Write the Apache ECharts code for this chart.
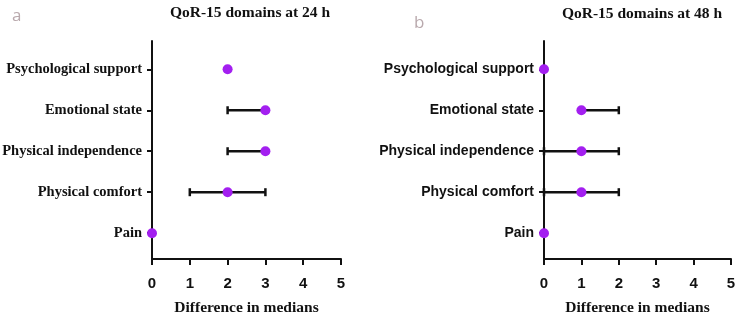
<!DOCTYPE html>
<html>
<head>
<meta charset="utf-8">
<script src="https://cdn.jsdelivr.net/npm/echarts@6/dist/echarts.min.js"></script>
<style>
  html, body { margin: 0; padding: 0; background: #fff; }
  #chart { width: 737px; height: 317px; }
</style>
</head>
<body>
<div id="chart"></div>
<script>
// domains, bottom to top (y value 0..4)
var domains = ['Pain', 'Physical comfort', 'Physical independence', 'Emotional state', 'Psychological support'];
var xTicks = [0, 1, 2, 3, 4, 5];

// 24 h
var median24 = [0, 2, 3, 3, 2];
var low24 = [0, 1, 2, 2, 2];
var high24 = [0, 3, 3, 3, 2];

// 48 h
var median48 = [0, 1, 1, 1, 0];
var low48 = [0, 0, 0, 1, 0];
var high48 = [0, 2, 2, 2, 0];

var purple = '#a31ff0';
var serif = 'Liberation Serif';
var sans = 'Liberation Sans';

function points(med) {
  return med.map(function (v, i) { return [v, i]; });
}
function bars(lo, hi) {
  return lo.map(function (v, i) { return [v, hi[i], i]; });
}

function errRender(params, api) {
  var lo = api.value(0), hi = api.value(1), y = api.value(2);
  if (lo === hi) return null;
  var a = api.coord([lo, y]);
  var b = api.coord([hi, y]);
  var h = 4;
  var st = { stroke: '#111', lineWidth: 2.5 };
  return {
    type: 'group',
    children: [
      { type: 'line', shape: { x1: a[0], y1: a[1], x2: b[0], y2: b[1] }, style: st },
      { type: 'line', shape: { x1: a[0], y1: a[1] - h, x2: a[0], y2: a[1] + h }, style: st },
      { type: 'line', shape: { x1: b[0], y1: b[1] - h, x2: b[0], y2: b[1] + h }, style: st }
    ]
  };
}

function xAxis(idx) {
  return {
    type: 'value', gridIndex: idx, min: 0, max: 5, interval: 1,
    name: 'Difference in medians', nameLocation: 'middle', nameGap: 41,
    nameTextStyle: { fontFamily: serif, fontWeight: 'bold', fontSize: 15.5, color: '#111' },
    axisLine: { show: true, onZero: false, lineStyle: { color: '#111', width: 2 } },
    axisTick: { show: true, length: 6, lineStyle: { color: '#111', width: 2 } },
    axisLabel: { fontFamily: sans, fontWeight: 'bold', fontSize: 15, color: '#111', margin: 17,
      formatter: function (v) { return xTicks.indexOf(v) >= 0 ? String(v) : ''; } },
    splitLine: { show: false }
  };
}

function yAxis(idx, font, size) {
  return {
    type: 'value', gridIndex: idx, min: -0.63, max: 4.69,
    axisLine: { show: true, onZero: false, lineStyle: { color: '#111', width: 2 } },
    axisTick: { show: true, length: 5, customValues: [0, 1, 2, 3, 4], lineStyle: { color: '#111', width: 2 } },
    axisLabel: { customValues: [0, 1, 2, 3, 4], fontFamily: font, fontWeight: 'bold', fontSize: size, color: '#111', margin: 10,
      formatter: function (v) { return domains[Math.round(v)]; } },
    splitLine: { show: false }
  };
}

var chart = echarts.init(document.getElementById('chart'));
chart.setOption({
  animation: false,
  backgroundColor: '#fff',
  title: [
    { text: 'QoR-15 domains at 24 h', left: 245, top: 0, textAlign: 'center',
      textStyle: { fontFamily: serif, fontWeight: 'bold', fontSize: 15.5, color: '#111' } },
    { text: 'QoR-15 domains at 48 h', left: 637, top: 1, textAlign: 'center',
      textStyle: { fontFamily: serif, fontWeight: 'bold', fontSize: 15.5, color: '#111' } },
    { text: 'a', left: 7, top: 3,
      textStyle: { fontFamily: 'Open Sans', fontWeight: 'normal', fontSize: 17, color: '#b9a9ad' } },
    { text: 'b', left: 409, top: 10,
      textStyle: { fontFamily: 'Open Sans', fontWeight: 'normal', fontSize: 17, color: '#b9a9ad' } }
  ],
  grid: [
    { left: 152, top: 41, width: 189, height: 218, outerBoundsMode: 'none', containLabel: false },
    { left: 544, top: 41, width: 187, height: 218, outerBoundsMode: 'none', containLabel: false }
  ],
  xAxis: [xAxis(0), xAxis(1)],
  yAxis: [yAxis(0, serif, 14.5), yAxis(1, sans, 14)],
  series: [
    { type: 'custom', xAxisIndex: 0, yAxisIndex: 0, renderItem: errRender, data: bars(low24, high24), z: 2 },
    { type: 'scatter', xAxisIndex: 0, yAxisIndex: 0, symbolSize: 10, itemStyle: { color: purple, opacity: 1 },
      data: points(median24), z: 3 },
    { type: 'custom', xAxisIndex: 1, yAxisIndex: 1, renderItem: errRender, data: bars(low48, high48), z: 2 },
    { type: 'scatter', xAxisIndex: 1, yAxisIndex: 1, symbolSize: 10, itemStyle: { color: purple, opacity: 1 },
      data: points(median48), z: 3 }
  ]
});
</script>
</body>
</html>
